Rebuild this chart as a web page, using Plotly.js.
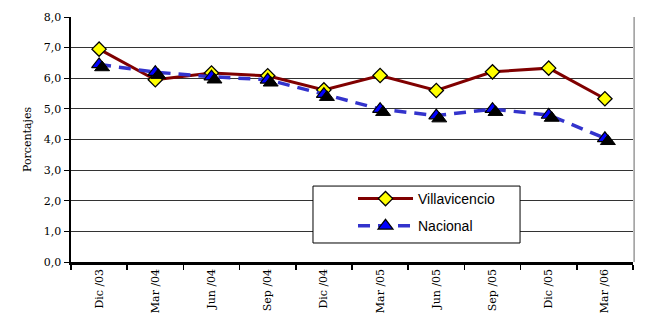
<!DOCTYPE html>
<html><head><meta charset="utf-8">
<script src="https://cdn.plot.ly/plotly-3.0.1.min.js"></script>
<style>html,body{margin:0;padding:0;background:#fff}#c{width:645px;height:318px}</style>
</head><body><div id="c"></div>
<script>
const categories = ["Dic /03","Mar /04","Jun /04","Sep /04","Dic /04","Mar /05","Jun /05","Sep /05","Dic /05","Mar /06"];
const villavicencio = [6.95, 5.95, 6.17, 6.08, 5.62, 6.09, 5.6, 6.21, 6.33, 5.33];
const nacional = [6.45, 6.2, 6.05, 5.95, 5.48, 4.99, 4.78, 4.99, 4.8, 4.04];
const yTicks = [0,1,2,3,4,5,6,7,8];

const serif = "DejaVu Serif";
const traces = [
  {x: categories, y: nacional, xaxis: 'x2', yaxis: 'y2', mode: 'markers', showlegend: false, hoverinfo: 'skip',
   marker: {symbol: 'triangle-up', size: 13, color: '#000', line: {color: '#000', width: 1}}},
  {x: categories, y: villavicencio, name: 'Villavicencio', legendgroup: 'a', mode: 'lines+markers',
   line: {color: '#800000', width: 3},
   marker: {symbol: 'diamond', size: 11, color: '#FFFF00', line: {color: '#000', width: 1.3}}},
  {x: categories, y: nacional, name: 'Nacional', legendgroup: 'b', mode: 'lines+markers',
   line: {color: '#3333CC', width: 3.5, dash: '12px,8px'},
   marker: {symbol: 'triangle-up', size: 13, color: '#0000FF', line: {color: '#000', width: 1.2}}}
];
const n = categories.length;
const dx = 3/56.2, dy = 3/30.6;
const layout = {
  width: 645, height: 318,
  margin: {l: 71, r: 12, t: 17, b: 56},
  paper_bgcolor: '#fff', plot_bgcolor: '#fff',
  showlegend: true,
  legend: {x: 0.5018, y: 0.3224, xanchor: 'left', yanchor: 'top', bgcolor: 'rgba(0,0,0,0)',
           borderwidth: 0, font: {family: 'Liberation Sans, Arial', size: 14, color: '#000'},
           traceorder: 'grouped', itemwidth: 55, tracegroupgap: 6},
  shapes: [
    {type: 'rect', xref: 'paper', yref: 'paper', x0: 0.4306, x1: 0.799, y0: 0.0776, y1: 0.310,
     fillcolor: '#fff', line: {color: '#000', width: 1}, layer: 'above'},
    {type: 'line', xref: 'paper', yref: 'paper', x0: 1.002, x1: 1.002, y0: 0, y1: 1,
     line: {color: '#999', width: 1.5}}
  ],
  xaxis: {type: 'category', range: [-0.5, n - 0.5], tickson: 'boundaries', ticks: 'outside', ticklen: 5,
          tickcolor: '#000', tickwidth: 1.5, showline: true, linecolor: '#000', linewidth: 2.5,
          showgrid: false, tickangle: -90, tickfont: {family: serif, size: 11, color: '#000'}, fixedrange: true},
  xaxis2: {type: 'category', overlaying: 'x', range: [-0.5 - dx, n - 0.5 - dx], visible: false, fixedrange: true},
  yaxis: {range: [0, 8], tickvals: yTicks, tickformat: '.1f', ticks: 'outside', ticklen: 5, tickcolor: '#000',
          showline: true, linecolor: '#000', linewidth: 2.5, showgrid: true, gridcolor: '#333', gridwidth: 1,
          zeroline: false, tickfont: {family: serif, size: 11, color: '#000'},
          title: {text: 'Porcentajes', font: {family: serif, size: 11, color: '#000'}, standoff: 10}, fixedrange: true},
  yaxis2: {overlaying: 'y', range: [dy, 8 + dy], visible: false, fixedrange: true},
  separators: ',.'
};
Plotly.newPlot('c', traces, layout, {displayModeBar: false, staticPlot: true});
</script></body></html>
